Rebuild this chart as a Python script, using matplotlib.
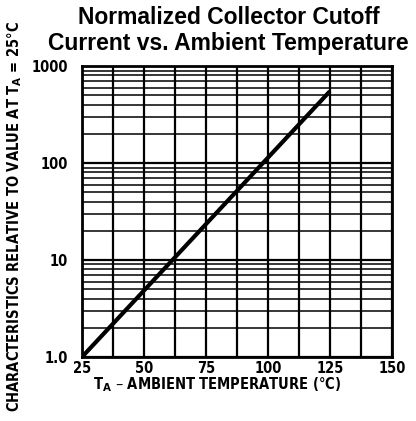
import numpy as np
import matplotlib
matplotlib.use("Agg")
import matplotlib.pyplot as plt
from matplotlib.ticker import FixedLocator, NullFormatter

# Data
temp_c = [25, 125]
rel_value = [1.0, 550.0]

x_ticks = [25, 50, 75, 100, 125, 150]
x_minor = [37.5, 62.5, 87.5, 112.5, 137.5]
y_ticks = [1, 10, 100, 1000]
y_tick_labels = ["1.0", "10", "100", "1000"]

narrow = dict(family="DejaVu Sans", fontstretch="condensed", fontweight="bold")

fig = plt.figure(figsize=(4.16, 4.21), dpi=100)
ax = fig.add_axes([0.197, 0.152, 0.745, 0.691])

ax.set_yscale("log")
ax.set_xlim(25, 150)
ax.set_ylim(1, 1000)

ax.xaxis.set_major_locator(FixedLocator(x_ticks))
ax.xaxis.set_minor_locator(FixedLocator(x_minor))
ax.yaxis.set_major_locator(FixedLocator(y_ticks))
ax.yaxis.set_minor_locator(FixedLocator(
    [m * d for d in [1, 10, 100] for m in range(2, 10)]))
ax.yaxis.set_minor_formatter(NullFormatter())
ax.set_xticklabels([str(t) for t in x_ticks], fontsize=10.5, **narrow)
ax.set_yticklabels(y_tick_labels, fontsize=10.5, **narrow)
ax.tick_params(which="both", length=0)
ax.tick_params(axis="x", pad=3)
ax.tick_params(axis="y", pad=10)

ax.grid(True, which="major", axis="both", color="black", linewidth=1.6)
ax.grid(True, which="minor", axis="x", color="black", linewidth=1.6)
ax.grid(True, which="minor", axis="y", color="black", linewidth=1.1)
for s in ax.spines.values():
    s.set_linewidth(2)

ax.plot(temp_c, rel_value, color="black", linewidth=3,
        solid_capstyle="butt")

fig.text(0.549, 0.985, "Normalized Collector Cutoff\nCurrent vs. Ambient Temperature",
         ha="center", va="top", fontsize=16.5, fontweight="bold",
         family=["Liberation Sans", "DejaVu Sans"], linespacing=1.15)

fig.text(0.035, 0.485, r"CHARACTERISTICS RELATIVE TO VALUE AT T$_\mathbf{A}$ = 25°C",
         rotation=90, ha="center", va="center", fontsize=10.5, **narrow)
fig.text(0.523, 0.086, r"T$_\mathbf{A}$ – AMBIENT TEMPERATURE (°C)",
         ha="center", va="center", fontsize=10.5, **narrow)

fig.savefig("out.png", dpi=100)
